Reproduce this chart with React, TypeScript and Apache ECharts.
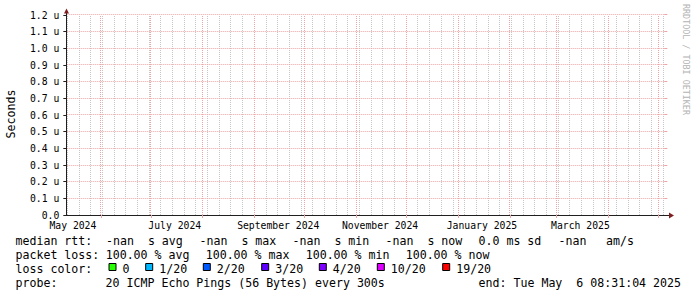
import React, { useEffect, useRef } from "react";
import * as echarts from "echarts";

// ---------- data ----------
const DAY = 86400000;
const endTime = Date.UTC(2025, 4, 6, 8, 31, 4);
const spanDays = 360;
const startTime = endTime - spanDays * DAY;

// no successful pings: median rtt is -nan everywhere
const rttSamples: [number, number][] = [];

const monthGridDates = [
  "2024-06-01", "2024-07-01", "2024-08-01", "2024-09-01", "2024-10-01", "2024-11-01",
  "2024-12-01", "2025-01-01", "2025-02-01", "2025-03-01", "2025-04-01", "2025-05-01",
];
const firstWeekGridDate = "2024-05-12";
const xLabelMonths = ["2024-05-01", "2024-07-01", "2024-09-01", "2024-11-01", "2025-01-01", "2025-03-01"];
const xLabelTexts = ["May 2024", "July 2024", "September 2024", "November 2024", "January 2025", "March 2025"];

const yMin = 0;
const yMax = 1.2;
const yStep = 0.1;
const yGridValues = [0.1, 0.2, 0.3, 0.4, 0.5, 0.6, 0.7, 0.8, 0.9, 1.0, 1.1, 1.2];
const yUnit = "u";

const rttTitle = "median rtt:";
const rttStatNames = ["avg", "max", "min", "now"];
const rttStatValues = ["-nan", "-nan", "-nan", "-nan"];
const rttSdText = "0.0 ms sd";
const rttAmValue = "-nan";
const rttAmUnit = "am/s";
const lossTitle = "packet loss:";
const lossStatNames = ["avg", "max", "min", "now"];
const lossStatValues = ["100.00", "100.00", "100.00", "100.00"];
const lossColorTitle = "loss color:";
const lossColorLabels = ["0", "1/20", "2/20", "3/20", "4/20", "10/20", "19/20"];
const lossColors = ["#26ff00", "#00b8ff", "#0059ff", "#5e00ff", "#7e00ff", "#dd00ff", "#ff0000"];
const probeTitle = "probe:";
const probeText = "20 ICMP Echo Pings (56 Bytes) every 300s";
const endText = "end: Tue May  6 08:31:04 2025";
const yTitle = "Seconds";
const watermark = "RRDTOOL / TOBI OETIKER";

// ---------- layout ----------
const GRID_LEFT = 66.3;
const GRID_TOP = 15;
const GRID_W = 601;
const GRID_H = 200;
const LABEL_OFFSET_DAYS = 14.3;

const rowY = [240.5, 254.5, 268.5, 282.5];
const colX0 = 15.5;
const rttStatX = [106, 199.5, 292.5, 385.5];
const rttSdX = 478.5;
const rttAmValueX = 558.5;
const rttAmUnitX = 606;
const lossStatX = [105.7, 205.7, 305.7, 405.7];
const boxX = [108.5, 145.2, 202.8, 261.2, 318.8, 376.8, 442.2];
const boxLabelDx = 14;
const probeX = 105.6;
const endRightX = 681;

const MONO = "'DejaVu Sans Mono', monospace";
const LEG_FONT = `11.6px ${MONO}`;
const AX_FONT_SIZE = 9.75;

const MAJOR = "#eca4a4";
const MINOR = "#c6c6c6";
const AXIS = "#1f1f1f";
const ARROW = "#801f1f";

const toT = (s: string) => Date.UTC(+s.slice(0, 4), +s.slice(5, 7) - 1, +s.slice(8, 10));
const keepSpaces = (s: string) => s.replace(/ /g, "\u00a0");
const snap = (v: number) => Math.round(v - 0.5) + 0.5;

function txt(x: number, y: number, text: string, align: string = "left", font: string = LEG_FONT, fill = "#000", rotation = 0) {
  return {
    type: "text",
    x,
    y,
    rotation,
    silent: true,
    style: {
      text: keepSpaces(text),
      font,
      fill,
      align,
      textAlign: align,
      verticalAlign: "middle",
      textVerticalAlign: "middle",
    },
  };
}

export default function App() {
  const ref = useRef<HTMLDivElement>(null);

  useEffect(() => {
    document.body.style.margin = "0";
    if (!ref.current) return;
    const chart = echarts.init(ref.current, undefined, { renderer: "svg" });

    const monthTimes = monthGridDates.map(toT);
    const weekTimes: number[] = [];
    for (let t = toT(firstWeekGridDate); t < endTime; t += 7 * DAY) weekTimes.push(t);
    const labelTimes = xLabelMonths.map((m) => toT(m) + LABEL_OFFSET_DAYS * DAY);

    const graphics: any[] = [];
    // axis extensions + arrows
    graphics.push({
      type: "line", silent: true,
      shape: { x1: 66.5, y1: 15, x2: 66.5, y2: 11 },
      style: { stroke: AXIS, lineWidth: 1 },
    });
    graphics.push({
      type: "polygon", silent: true,
      shape: { points: [[64, 13.5], [69, 13.5], [66.5, 8.5]] },
      style: { fill: ARROW },
    });
    graphics.push({
      type: "line", silent: true,
      shape: { x1: 666, y1: 215.5, x2: 670, y2: 215.5 },
      style: { stroke: AXIS, lineWidth: 1 },
    });
    graphics.push({
      type: "polygon", silent: true,
      shape: { points: [[669, 212.5], [669, 218.5], [674, 215.5]] },
      style: { fill: ARROW },
    });
    // titles
    graphics.push(txt(11, 114, yTitle, "center", LEG_FONT, "#000", Math.PI / 2));
    graphics.push(txt(686, 4, watermark, "left", `8.4px ${MONO}`, "#b4b4b4", -Math.PI / 2));

    // legend row 1
    graphics.push(txt(colX0, rowY[0], rttTitle));
    rttStatNames.forEach((n, i) => graphics.push(txt(rttStatX[i], rowY[0], `${rttStatValues[i]}  s ${n}`)));
    graphics.push(txt(rttSdX, rowY[0], rttSdText));
    graphics.push(txt(rttAmValueX, rowY[0], rttAmValue));
    graphics.push(txt(rttAmUnitX, rowY[0], rttAmUnit));
    // row 2
    graphics.push(txt(colX0, rowY[1], lossTitle));
    lossStatNames.forEach((n, i) => graphics.push(txt(lossStatX[i], rowY[1], `${lossStatValues[i]} % ${n}`)));
    // row 3
    graphics.push(txt(colX0, rowY[2], lossColorTitle));
    lossColorLabels.forEach((l, i) => {
      graphics.push({
        type: "rect", silent: true,
        shape: { x: boxX[i] + 0.5, y: 263.5, width: 7, height: 7 },
        style: { fill: lossColors[i], stroke: "#000", lineWidth: 1 },
      });
      graphics.push(txt(boxX[i] + boxLabelDx, rowY[2], l));
    });
    // row 4
    graphics.push(txt(colX0, rowY[3], probeTitle));
    graphics.push(txt(probeX, rowY[3], probeText));
    graphics.push(txt(endRightX, rowY[3], endText, "right"));

    // vertical grid lines through the axis scale
    const vGrid = (name: string, times: number[], color: string) => ({
      type: "custom",
      name,
      silent: true,
      clip: false,
      data: times.map((t) => [t, yMin]),
      encode: { x: 0, y: 1 },
      renderItem: (_p: any, api: any) => {
        const t = api.value(0);
        const p0 = api.coord([t, yMin]);
        const p1 = api.coord([t, yMax]);
        const x = snap(p0[0]);
        return {
          type: "line",
          shape: { x1: x, y1: p0[1], x2: x, y2: p1[1] },
          style: { stroke: color, fill: null, lineWidth: 1, lineDash: [1, 1] },
        };
      },
    });
    // horizontal grid lines through the axis scale
    const hGrid = {
      type: "custom",
      name: "value grid",
      silent: true,
      clip: false,
      data: yGridValues.map((v) => [startTime, v]),
      encode: { x: 0, y: 1 },
      renderItem: (_p: any, api: any) => {
        const v = api.value(1);
        const p0 = api.coord([startTime, v]);
        const p1 = api.coord([endTime, v]);
        const y = snap(p0[1]);
        return {
          type: "group",
          children: [
            {
              type: "line",
              shape: { x1: p0[0] + 1, y1: y, x2: p1[0], y2: y },
              style: { stroke: MAJOR, fill: null, lineWidth: 1, lineDash: [1, 1] },
            },
            {
              type: "line",
              shape: { x1: p1[0] - 3, y1: y, x2: p1[0], y2: y },
              style: { stroke: MAJOR, fill: null, lineWidth: 1 },
            },
          ],
        };
      },
    };

    chart.setOption({
      animation: false,
      backgroundColor: "#ffffff",
      textStyle: { fontFamily: MONO },
      grid: { left: GRID_LEFT, top: GRID_TOP, width: GRID_W, height: GRID_H, containLabel: false },
      xAxis: {
        type: "value",
        min: startTime,
        max: endTime,
        axisLine: { show: true, lineStyle: { color: AXIS, width: 1 } },
        axisTick: { show: true, customValues: monthTimes, length: 3, lineStyle: { color: MAJOR } },
        axisLabel: {
          show: true,
          customValues: labelTimes,
          margin: 5,
          color: "#000",
          fontFamily: MONO,
          fontSize: AX_FONT_SIZE,
          formatter: (v: number) => {
            let best = 0;
            labelTimes.forEach((t, i) => {
              if (Math.abs(t - v) < Math.abs(labelTimes[best] - v)) best = i;
            });
            return xLabelTexts[best];
          },
        },
        splitLine: { show: false },
      },
      yAxis: {
        type: "value",
        min: yMin,
        max: yMax,
        interval: yStep,
        axisLine: { show: true, lineStyle: { color: AXIS, width: 1 } },
        axisTick: { show: true, length: 3, lineStyle: { color: AXIS } },
        axisLabel: {
          margin: 7,
          color: "#000",
          fontFamily: MONO,
          fontSize: AX_FONT_SIZE,
          formatter: (v: number) => (Math.abs(v) < 1e-9 ? v.toFixed(1) : `${v.toFixed(1)} ${yUnit}`),
        },
        splitLine: { show: false },
      },
      series: [
        vGrid("week grid", weekTimes, MINOR),
        hGrid,
        vGrid("month grid", monthTimes, MAJOR),
        {
          type: "line",
          name: "median rtt",
          data: rttSamples,
          showSymbol: false,
          silent: true,
          z: 5,
        },
      ],
      graphic: graphics,
    });

    return () => chart.dispose();
  }, []);

  return (
    <div
      ref={ref}
      style={{ position: "absolute", left: 0, top: 0, width: 697, height: 297 }}
    />
  );
}
